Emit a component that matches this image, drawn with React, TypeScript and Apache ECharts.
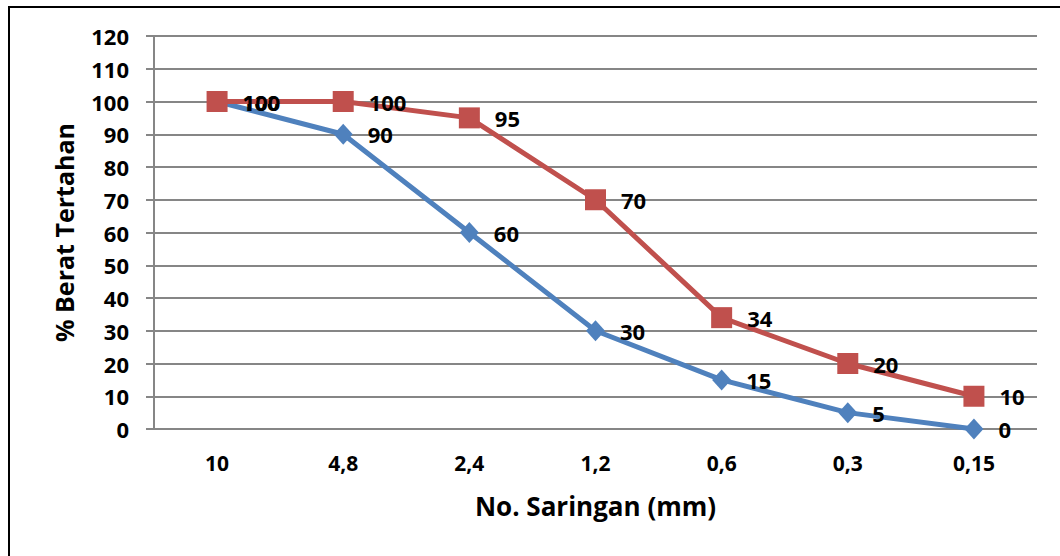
import React, { useEffect, useRef } from "react";
import * as echarts from "echarts";

const categories = ["10", "4,8", "2,4", "1,2", "0,6", "0,3", "0,15"];
const blueValues = [100, 90, 60, 30, 15, 5, 0];
const redValues = [100, 100, 95, 70, 34, 20, 10];
const yTicks = { min: 0, max: 120, interval: 10 };

const FONT = "'Open Sans', sans-serif";

export default function App() {
  const ref = useRef<HTMLDivElement>(null);
  useEffect(() => {
    const chart = echarts.init(ref.current!, null, { renderer: "svg" });
    const labelStyle = (distance: number) => ({
      show: true,
      position: "right" as const,
      distance,
      color: "#000",
      fontWeight: "bold" as const,
      fontSize: 22,
      fontFamily: FONT,
    });
    chart.setOption({
      animation: false,
      backgroundColor: "#fff",
      grid: { left: 154, right: 23, top: 36, bottom: 127 },
      graphic: [
        {
          type: "rect",
          shape: { x: 9, y: 7, width: 1200, height: 700 },
          style: { fill: "none", stroke: "#000", lineWidth: 2 },
          silent: true,
        },
      ],
      xAxis: {
        type: "category",
        data: categories,
        boundaryGap: true,
        name: "No. Saringan (mm)",
        nameLocation: "middle",
        nameGap: 64,
        nameTextStyle: { fontSize: 26, fontWeight: "bold", color: "#000", fontFamily: FONT },
        axisLine: { show: false },
        axisTick: { show: false },
        axisLabel: { fontSize: 21, fontWeight: "bold", color: "#000", fontFamily: FONT, margin: 23 },
        splitLine: { show: false },
      },
      yAxis: {
        type: "value",
        min: yTicks.min,
        max: yTicks.max,
        interval: yTicks.interval,
        name: "% Berat Tertahan",
        nameLocation: "middle",
        nameGap: 78,
        nameTextStyle: { fontSize: 25, fontWeight: "bold", color: "#000", fontFamily: FONT },
        axisLine: { show: true, lineStyle: { color: "#868686", width: 2 } },
        axisTick: { show: true, length: 8, lineStyle: { color: "#868686", width: 2 } },
        axisLabel: { fontSize: 22, fontWeight: "bold", color: "#000", fontFamily: FONT, margin: 25 },
        splitLine: { show: true, lineStyle: { color: "#868686", width: 2 } },
      },
      series: [
        {
          type: "line",
          name: "blue",
          data: blueValues,
          symbol: "diamond",
          symbolSize: [19, 21],
          lineStyle: { color: "#4F81BD", width: 5 },
          itemStyle: { color: "#4F81BD" },
          label: labelStyle(15),
          z: 2,
        },
        {
          type: "line",
          name: "red",
          data: redValues,
          symbol: "rect",
          symbolSize: 21,
          lineStyle: { color: "#C0504D", width: 5 },
          itemStyle: { color: "#C0504D" },
          label: labelStyle(15),
          z: 3,
        },
      ],
    });
    return () => chart.dispose();
  }, []);
  return (
    <div
      ref={ref}
      style={{ position: "fixed", left: 0, top: 0, width: 1060, height: 556 }}
    />
  );
}
